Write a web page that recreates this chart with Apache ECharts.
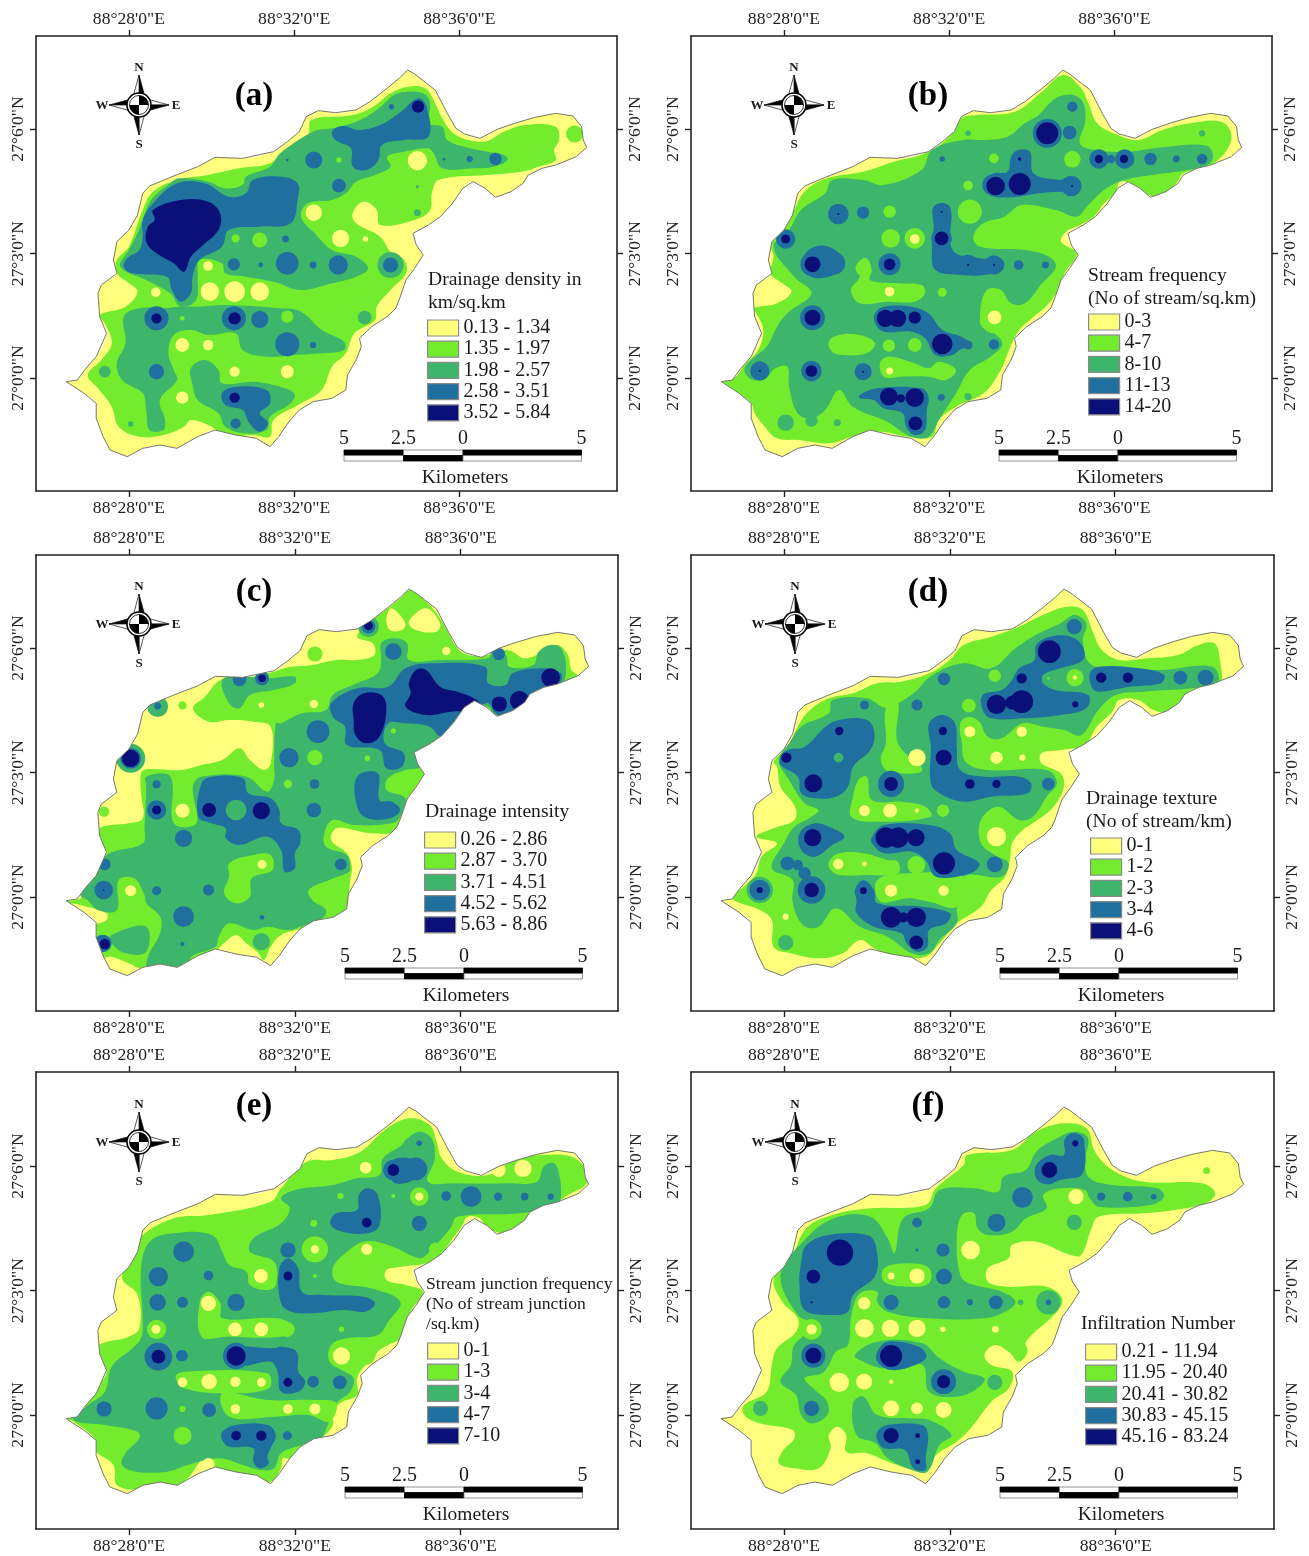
<!DOCTYPE html>
<html><head><meta charset="utf-8">
<style>html,body{margin:0;padding:0;background:#fff}#c{width:1309px;height:1556px}</style>
<script src="https://cdn.jsdelivr.net/npm/echarts@6/dist/echarts.min.js"></script>
</head><body><div id="c"></div>
<script>
// Map coordinates: grid units (about 14.5 m) east and north of the 88°28'E / 27°0'N graticule crossing.
const lonTicks=[0,480,960], lonLabels=['88°28\'0"E','88°32\'0"E','88°36\'0"E'];
const latTicks=[0,373,747], latLabels=['27°0\'0"N','27°3\'0"N','27°6\'0"N'];
const classColors=['#FFFF7D','#72EC2C','#3DB56B','#20709F','#0B0F78'];
const basin=[[810,924],[830,912],[855,892],[890,864],[905,834],[925,794],[950,749],[975,732],[1020,719],[1070,746],[1120,764],[1180,782],[1240,794],[1290,786],[1315,754],[1320,714],[1330,692],[1300,664],[1240,639],[1200,629],[1160,609],[1145,584],[1110,559],[1065,542],[1035,569],[1000,589],[970,569],[940,524],[905,484],[870,459],[825,434],[835,399],[855,369],[830,329],[805,294],[785,234],[775,209],[750,184],[705,154],[670,119],[675,94],[660,54],[635,9],[630,-36],[590,-61],[535,-71],[495,-96],[465,-131],[435,-176],[410,-206],[370,-181],[310,-171],[250,-156],[200,-176],[140,-211],[90,-201],[40,-211],[-5,-236],[-55,-216],[-75,-176],[-95,-121],[-95,-76],[-130,-46],[-182,-11],[-150,-6],[-125,29],[-95,64],[-65,134],[-85,184],[-90,254],[-80,279],[-35,314],[-45,354],[-35,409],[0,444],[25,489],[40,554],[60,576],[125,604],[200,634],[250,662],[330,659],[420,679],[460,709],[495,739],[515,784],[550,802],[600,796],[660,804],[700,829],[750,869],[785,899]];

// Each panel: layers drawn in order as [class index, shapes]; a shape is a polygon or a [x,y,radius] disc.
const aLayers=[
[1,[[[810,874],[860,869],[890,824],[910,779],[950,729],[1030,709],[1090,739],[1150,759],[1240,754],[1250,714],[1235,684],[1240,654],[1190,634],[1140,619],[1040,609],[900,594],[880,554],[875,504],[830,474],[730,459],[720,504],[680,529],[650,494],[660,464],[730,424],[760,379],[800,354],[805,314],[760,264],[720,214],[715,174],[655,134],[630,74],[590,34],[560,-36],[500,-76],[420,-126],[410,-176],[360,-171],[280,-176],[240,-146],[180,-126],[160,-146],[100,-171],[30,-176],[-30,-146],[-50,-86],[-90,-31],[-120,9],[-80,54],[-50,104],[-70,164],[-85,189],[-10,214],[25,259],[0,284],[-35,314],[-35,354],[0,394],[40,504],[70,559],[140,594],[230,609],[320,629],[410,644],[450,684],[520,729],[530,774],[650,789],[710,814],[760,854]],[1295,732,25]]],
[2,[[[40,474],[65,534],[120,584],[145,599],[230,589],[280,569],[330,579],[340,604],[410,634],[440,674],[535,739],[590,749],[660,769],[720,804],[770,849],[810,859],[855,854],[875,824],[870,764],[910,754],[925,714],[980,692],[1040,679],[1090,669],[1100,654],[1060,634],[1000,629],[910,629],[885,674],[870,689],[800,679],[750,664],[760,634],[715,609],[660,589],[630,554],[590,534],[520,524],[500,484],[540,434],[590,384],[660,364],[695,329],[660,304],[590,284],[500,264],[420,289],[340,304],[280,314],[270,344],[205,354],[200,304],[195,234],[150,214],[120,254],[50,294],[-25,334],[0,384],[25,434]],
[[-15,184],[30,209],[100,209],[150,214],[200,214],[280,219],[440,209],[500,199],[560,144],[625,109],[625,84],[560,74],[480,69],[400,64],[330,84],[310,134],[230,129],[180,144],[130,129],[115,74],[130,24],[140,-6],[90,-66],[105,-126],[100,-156],[60,-156],[50,-96],[40,-46],[-20,-6],[-35,44],[-10,104]],
[[180,29],[220,54],[260,24],[270,-16],[360,-11],[420,-21],[480,-46],[470,-76],[410,-116],[400,-156],[340,-166],[280,-146],[260,-106],[200,-66],[185,-21]],
[-70,19,17],[685,181,20],[5,-138,8],[838,496,10],[838,574,5],[760,339,38]]],
[1,[[460,184,18],[310,419,12],[380,414,22],[155,179,7],[610,654,8]]],
[0,[[838,652,28],[537,496,24],[615,419,25],[687,417,8],[230,336,14],[78,257,14],[235,259,27],[307,259,30],[380,259,27],[155,99,20],[230,99,15],[307,19,15],[460,19,19],[155,-59,18]]],
[3,[[[840,839],[865,814],[870,724],[800,714],[735,699],[725,654],[690,624],[650,634],[645,689],[600,714],[590,739],[620,756],[670,744],[730,759],[785,794]],
[[40,474],[70,524],[140,584],[220,584],[290,544],[340,554],[360,594],[440,604],[490,584],[490,534],[470,464],[380,454],[290,444],[270,394],[205,354],[185,304],[180,254],[150,229],[125,264],[110,304],[10,314],[-15,334],[-5,359],[30,384],[40,424]],
[[270,-46],[310,-26],[400,-36],[410,-76],[380,-106],[405,-136],[380,-161],[350,-136],[330,-96],[280,-81]],
[537,654,25],[610,577,20],[305,341,18],[460,344,33],[608,339,28],[760,339,22],[1065,657,18],[990,657,9],[915,656,4],[455,417,10],[383,339,7],[535,339,10],[80,19,22],[460,101,35],[535,99,9],[763,814,8],[460,654,4],[310,-136,15],[80,179,35],[305,179,35],[380,176,25]]],
[4,[[[70,504],[150,534],[230,529],[265,494],[260,444],[210,394],[180,364],[160,319],[130,344],[80,374],[50,409],[55,454],[75,474]],[840,814,18],[80,179,15],[307,179,18],[307,-59,15]]]
];

const bLayers=[
[1,[[[810,909],[860,874],[885,824],[910,764],[970,729],[1030,714],[1100,744],[1180,764],[1270,769],[1300,729],[1280,674],[1230,634],[1160,614],[1140,584],[1090,544],[1040,559],[1005,584],[975,589],[965,559],[930,524],[900,484],[860,459],[820,439],[805,409],[850,374],[815,314],[800,274],[770,224],[720,179],[680,139],[650,74],[630,24],[580,-46],[500,-86],[450,-126],[430,-176],[360,-176],[280,-161],[200,-176],[130,-196],[45,-186],[-20,-181],[-60,-141],[-85,-106],[-95,-76],[-130,-46],[-175,-11],[-140,4],[-115,39],[-75,84],[-60,144],[-80,194],[-90,209],[-20,224],[22,259],[-5,284],[-40,314],[-30,364],[-40,409],[0,444],[25,494],[60,559],[125,599],[230,619],[320,649],[410,674],[480,724],[515,779],[560,789],[670,799],[750,859]]]],
[2,[[[790,839],[840,849],[870,824],[875,769],[860,704],[900,684],[1000,679],[1100,692],[1230,696],[1245,654],[1200,629],[1070,609],[990,594],[930,564],[880,514],[850,484],[790,504],[690,519],[640,484],[580,464],[550,424],[570,394],[700,384],[770,364],[790,334],[750,284],[700,224],[660,224],[630,264],[590,264],[570,194],[590,154],[635,104],[600,64],[540,24],[500,-46],[450,-126],[420,-176],[370,-176],[300,-131],[200,-86],[160,-36],[120,-96],[80,-121],[40,-106],[15,-26],[10,34],[-25,29],[-50,4],[-90,-6],[-115,24],[-90,59],[-50,94],[-20,154],[10,194],[80,254],[30,304],[-30,394],[15,444],[50,504],[120,554],[140,594],[230,594],[290,579],[400,624],[430,684],[520,714],[580,714],[650,724],[700,764],[740,789]],
[535,734,8],[5,-134,24],[80,-128,18],[155,-134,10],[535,-56,10],[1215,734,9]]],
[1,[[307,499,18],[310,419,27],[380,419,30],[610,659,14],[838,656,24],[535,577,14],[540,499,35],[230,329,22],
[[215,344],[240,359],[255,324],[250,294],[330,284],[400,279],[410,254],[380,229],[300,229],[220,224],[195,264],[220,304]],
[460,257,13],
[[570,184],[590,254],[630,264],[630,214],[635,154],[610,134],[575,154]],
[[130,109],[160,129],[220,129],[265,104],[240,74],[170,69],[140,79]],[305,97,18],[380,99,20],
[[280,49],[310,64],[380,44],[420,29],[450,49],[500,24],[470,-6],[420,4],[340,4],[290,4]]]],
[0,[[307,259,14],[380,417,14],[612,182,20],[307,21,10]]],
[3,[[[660,664],[680,684],[715,679],[725,614],[800,594],[820,599],[860,584],[850,554],[800,559],[740,554],[680,544],[610,544],[580,564],[580,594],[610,614],[650,619]],
[838,814,15],[765,734,42],[830,736,20],[835,576,30],
[915,657,28],[990,657,28],[950,657,12],[1065,657,18],[1140,657,10],[1215,657,15],[460,657,8],
[158,492,30],[230,496,18],[5,417,28],[83,341,35],[145,344,33],
[[55,354],[80,389],[130,394],[175,354],[160,319],[100,299],[65,314]],
[307,341,32],[83,181,36],
[458,499,26],[458,419,30],
[[435,514],[482,514],[490,384],[570,359],[635,354],[635,324],[580,309],[520,309],[440,324],[430,394],[435,454]],
[535,339,30],[610,339,28],[682,339,14],[760,339,10],
[[265,194],[290,214],[370,214],[420,194],[460,144],[515,124],[545,99],[510,84],[490,69],[440,69],[410,119],[370,139],[290,139],[265,164]],
[535,99,13],[610,101,15],
[-70,21,28],[80,21,30],[230,19,25],
[[220,-51],[270,-31],[400,-31],[420,-56],[415,-96],[410,-156],[380,-171],[355,-146],[345,-106],[290,-91],[260,-66],[220,-61]],
[457,-58,10]]],
[2,[[535,-56,8]]],
[4,[[765,734,32],[615,576,27],[685,582,32],[837,576,3],[685,657,5],[915,657,12],[988,657,12],[158,492,3],[5,417,13],[83,341,23],[307,341,17],[83,181,23],[458,499,3],[458,419,20],[535,339,3],[610,339,3],[295,179,25],[330,179,25],[380,181,18],[460,102,30],[-70,21,3],[80,21,17],[230,19,3],[305,-56,26],[340,-61,12],[380,-59,27],[382,-136,20]]]
];

const cLayers=[
[1,[[[815,921],[860,886],[890,851],[920,801],[950,746],[980,726],[1040,726],[1090,741],[1110,736],[1145,716],[1200,736],[1240,756],[1270,726],[1280,681],[1300,661],[1240,631],[1160,606],[1110,556],[1065,541],[1040,566],[1000,581],[970,566],[940,521],[905,481],[870,456],[830,431],[840,396],[855,366],[830,326],[805,291],[785,231],[775,196],[700,191],[650,201],[600,206],[585,171],[630,131],[645,91],[640,51],[635,-9],[630,-34],[590,-64],[535,-74],[500,-94],[440,-114],[410,-149],[390,-189],[375,-169],[340,-139],[310,-114],[280,-134],[240,-169],[200,-179],[190,-209],[140,-214],[50,-214],[30,-214],[0,-199],[-50,-179],[-75,-179],[-95,-124],[-105,-89],[-65,-69],[-65,-49],[-140,-24],[-180,-14],[-140,-4],[-125,26],[-95,61],[-65,131],[-90,181],[-85,206],[-50,216],[0,221],[40,236],[35,311],[35,371],[50,383],[150,381],[210,396],[270,411],[320,446],[350,411],[390,381],[410,401],[410,511],[360,526],[290,531],[230,526],[185,566],[220,601],[265,651],[330,656],[420,676],[460,689],[530,696],[600,711],[660,711],[710,726],[705,761],[660,781],[700,826],[750,866],[785,896]],
[538,729,22],[155,575,12],[-72,256,15]]],
[0,[[[760,866],[800,821],[790,801],[755,801],[745,836]],[[860,866],[900,821],[890,796],[830,801],[810,826]],[918,738,12],[383,576,8],[535,579,12],[155,259,20]]],
[2,[[[440,521],[500,551],[570,561],[590,606],[660,641],[720,671],[730,711],[730,761],[765,776],[805,761],[810,711],[900,711],[1040,716],[1050,736],[1090,726],[1100,691],[1170,696],[1185,736],[1220,756],[1250,746],[1265,686],[1250,636],[1170,611],[1140,581],[1100,551],[1060,546],[1040,571],[1000,576],[950,551],[905,481],[840,431],[845,391],[800,381],[750,356],[745,321],[800,296],[785,241],[760,221],[650,216],[590,231],[565,191],[570,151],[630,126],[640,81],[630,71],[580,51],[520,21],[530,-9],[570,-39],[560,-64],[535,-74],[495,-89],[460,-99],[400,-89],[360,-99],[290,-79],[260,-119],[250,-149],[180,-179],[170,-214],[130,-214],[55,-214],[55,-179],[90,-109],[90,-59],[50,-19],[45,6],[15,56],[-30,51],[-35,-39],[-90,-39],[-120,-9],[-140,6],[-95,66],[-65,126],[40,161],[45,211],[50,331],[50,361],[120,361],[130,221],[195,221],[185,331],[210,361],[340,361],[400,316],[420,351],[420,391],[425,521]],
[[-50,-114],[50,-89],[50,-164],[-10,-169],[-50,-139]],
[[270,651],[330,661],[400,656],[480,661],[480,641],[420,621],[350,606],[320,566],[290,581]],
[5,416,42],[693,811,30],[383,-134,25],[83,571,30],[-80,-139,25]]],
[1,[[538,418,22],[460,339,12],[[290,101],[360,126],[410,126],[415,81],[355,56],[350,1],[310,-19],[275,11],[290,61]],[690,416,8],[765,498,7]]],
[0,[[385,98,13],[155,259,20],[5,19,16]]],
[3,[[[585,581],[660,626],[750,631],[800,686],[880,701],[1030,691],[1040,641],[1090,636],[1110,671],[1200,686],[1250,671],[1245,641],[1170,616],[1140,581],[1090,546],[1060,551],[1040,581],[1010,571],[960,551],[905,481],[870,511],[800,521],[750,521],[740,461],[795,431],[790,391],[745,386],[725,441],[630,456],[625,511],[590,541]],
[[660,361],[720,371],[725,291],[760,286],[785,261],[755,236],[690,236],[660,271]],
[[210,341],[240,361],[330,356],[345,311],[410,296],[435,261],[440,221],[490,201],[495,161],[480,131],[480,86],[450,76],[440,141],[400,181],[320,156],[280,176],[280,206],[240,221],[200,241]],
[547,496,33],[765,736,24],[463,418,28],[537,339,14],[535,261,21],[80,261,28],[80,338,12],[158,176,25],[-70,98,17],[-73,21,27],[80,19,13],[230,21,16],[158,-59,30],[613,98,17],[385,-61,7],[155,-141,6],[320,653,20],[385,656,20],[83,573,10],[1070,729,18],[-75,-139,25],[693,811,20],[5,416,30]]],
[2,[[310,261,30]]],
[1,[[765,498,7]]],
[4,[[[650,581],[680,611],[730,606],[745,566],[725,481],[685,461],[655,486],[650,531]],[[810,641],[830,681],[860,681],[900,631],[950,616],[990,601],[1015,581],[990,561],[930,556],[860,546],[800,571],[815,611]],[1220,658,27],[1072,579,22],[1130,589,28],[232,261,20],[383,259,25],[80,261,13],[5,416,25],[693,814,13],[385,656,11],[-70,-141,15],[-73,21,2]]]
];

const dLayers=[
[1,[[[760,851],[820,871],[865,861],[895,791],[920,741],[970,711],[1050,716],[1140,726],[1200,756],[1245,761],[1260,721],[1260,631],[1180,621],[1150,591],[1110,556],[1070,561],[1025,591],[970,591],[950,556],[905,511],[870,456],[800,441],[745,431],[745,401],[800,371],[810,331],[780,271],[720,221],[690,201],[660,161],[655,121],[640,61],[600,21],[570,-29],[500,-79],[450,-139],[410,-179],[340,-179],[270,-159],[220,-129],[170,-169],[100,-184],[20,-169],[-30,-149],[-35,-69],[-70,-39],[-150,-4],[-110,36],[-80,71],[-65,121],[-20,161],[-80,181],[-30,206],[30,231],[32,271],[-10,331],[-20,391],[-30,406],[10,451],[40,511],[70,556],[130,596],[200,611],[270,641],[340,646],[420,671],[480,711],[520,756],[600,781],[680,811]]]],
[0,[[615,181,28]]],
[2,[[[430,666],[520,701],[600,686],[670,746],[720,781],[800,821],[840,846],[875,821],[865,766],[885,701],[940,686],[1090,681],[1240,691],[1255,641],[1180,626],[1040,616],[960,606],[910,561],[860,486],[810,501],[750,511],[690,521],[630,476],[590,481],[565,526],[535,541],[510,521],[515,461],[525,406],[590,381],[760,381],[790,341],[760,301],[720,241],[680,231],[620,271],[570,231],[570,161],[610,126],[650,101],[630,61],[520,61],[500,-29],[500,-79],[450,-129],[420,-169],[370,-169],[300,-119],[220,-89],[150,-34],[100,-89],[55,-84],[25,-14],[25,51],[-35,86],[0,161],[30,211],[80,241],[100,261],[60,281],[15,351],[-15,411],[15,461],[50,511],[130,551],[140,591],[240,596],[295,566],[330,581],[380,616]],
[5,-137,22],[-70,21,38]]],
[1,[[[295,566],[330,586],[330,461],[400,381],[305,376],[280,411],[295,461]],
[[215,351],[240,361],[255,291],[340,286],[410,271],[425,241],[270,226],[195,241],[200,301]],
[460,259,18],
[[130,106],[160,131],[230,131],[300,111],[330,106],[330,71],[230,66],[160,66],[135,81]],[383,96,26],
[[270,51],[360,71],[520,61],[500,-29],[420,-14],[360,-4],[280,-14]],
[610,664,18],[535,574,20],[842,658,25],[765,656,4]]],
[0,[[842,658,6],[538,496,16],[688,496,15],[385,418,25],[615,418,18],[690,418,9],[233,259,16],[307,259,20],[385,259,6],[157,99,15],[233,99,7],[310,19,18],[462,19,15],[5,-59,9]]],
[3,[[840,811,22],
[[730,756],[770,781],[830,781],[865,751],[865,711],[800,686],[750,666],[750,641],[785,621],[880,606],[875,566],[800,546],[700,536],[600,536],[575,561],[575,606],[630,621],[660,651],[680,686],[725,711]],
[[885,671],[910,691],[1030,686],[1100,666],[1090,641],[1000,631],[910,616],[890,631]],[1147,658,20],[1220,658,23],
[[-10,421],[10,441],[60,451],[120,511],[160,531],[240,531],[262,491],[250,441],[200,391],[185,331],[150,301],[90,296],[50,311],[40,361],[-10,396]],
[233,576,13],[385,576,16],[463,654,18],[310,339,38],
[[420,521],[460,546],[495,521],[500,451],[510,381],[580,361],[680,361],[715,341],[705,311],[600,301],[520,286],[450,311],[425,341],[425,451]],
[765,339,18],
[[255,181],[290,216],[420,216],[480,191],[500,141],[565,101],[540,71],[440,61],[410,111],[370,136],[290,131],[255,161]],[610,98,23],
[85,176,40],[[45,191],[90,221],[140,206],[175,181],[140,156],[90,121],[50,141]],
[10,101,20],[40,96,15],[80,21,40],[60,71,18],
[[205,21],[230,51],[260,21],[270,-19],[400,-29],[480,-49],[470,-79],[420,-99],[415,-149],[385,-164],[355,-139],[340,-109],[260,-89],[210,-49],[210,-9]],
[-70,21,30]]],
[2,[[158,418,14]]],
[4,[[768,736,33],[688,656,15],[918,658,15],[995,658,15],[843,578,9],[615,578,28],[660,583,20],[688,586,33],[160,498,12],[7,418,15],[85,341,26],[310,339,20],[460,498,12],[462,418,23],[538,339,14],[615,339,12],[295,178,30],[330,178,30],[382,178,25],[463,101,32],[83,178,25],[80,21,21],[-70,21,9],[230,19,10],[310,-61,30],[345,-61,15],[383,-61,28],[383,-136,20]]]
];

const eLayers=[
[1,[[[740,855],[810,890],[870,870],[890,820],[905,770],[950,730],[1040,720],[1120,770],[1200,780],[1280,775],[1320,740],[1325,695],[1270,660],[1240,640],[1170,610],[1140,575],[1090,545],[1035,565],[1015,590],[980,595],[965,570],[930,520],[900,480],[860,455],[790,445],[745,435],[745,405],[800,390],[850,370],[820,320],[800,280],[785,230],[750,210],[720,190],[705,160],[680,145],[660,110],[660,60],[610,35],[590,0],[590,-30],[555,-70],[500,-95],[465,-130],[445,-130],[440,-160],[410,-200],[340,-190],[250,-170],[220,-130],[170,-190],[130,-215],[40,-225],[-35,-210],[-45,-150],[-100,-105],[-100,-70],[-160,-20],[-182,-10],[-150,-5],[-125,30],[-95,80],[-65,130],[-85,180],[-88,210],[0,235],[30,260],[25,360],[-20,410],[10,470],[30,530],[130,590],[230,600],[410,640],[440,680],[515,760],[590,765],[670,790]]]],
[0,[[1070,735,20],[1140,740,25]]],
[2,[[[800,825],[840,850],[875,830],[885,770],[865,700],[940,695],[1090,695],[1180,700],[1200,745],[1230,755],[1245,720],[1250,660],[1240,630],[1130,605],[950,595],[930,560],[860,480],[840,470],[750,510],[680,520],[620,480],[590,440],[600,400],[700,380],[785,340],[750,280],[720,240],[630,230],[585,210],[580,160],[615,135],[650,110],[640,70],[600,35],[575,-30],[555,-70],[500,-90],[440,-115],[420,-160],[380,-165],[330,-150],[260,-130],[170,-150],[110,-170],[20,-170],[-20,-150],[-10,-115],[30,-70],[25,-50],[-70,-30],[-160,-15],[-125,25],[-70,70],[-50,145],[10,200],[35,230],[40,280],[35,440],[60,520],[130,545],[240,540],[270,490],[290,450],[340,430],[350,390],[400,375],[425,390],[420,460],[350,490],[360,530],[440,575],[465,620],[440,650],[480,675],[590,690],[660,710],[725,720],[735,770],[790,810]]]],
[1,[[80,257,28],[[205,340],[230,370],[265,335],[270,290],[430,290],[480,260],[440,235],[280,235],[210,235]],
[[135,115],[160,130],[400,125],[405,80],[280,65],[160,80]],
[[270,65],[400,45],[540,45],[600,35],[580,-20],[520,0],[420,-5],[290,-5]],
[155,-62,26],[538,497,38],[840,655,27],[615,177,35],[685,745,22],[612,657,9],[765,657,6],[535,575,10],[538,417,6],[615,257,8],[155,18,9],[457,257,22],[888,497,20]]],
[0,[[78,257,13],[230,335,22],[307,257,20],[383,257,20],[382,417,20],[688,497,16],[308,18,14],[460,18,14],[538,18,16],[230,-148,18],[538,497,12],[840,655,12],[615,177,25],[685,742,17],[155,98,14],[232,100,22],[308,100,15],[383,98,13]]],
[3,[[840,815,8],[765,735,30],[830,738,33],[[765,765],[830,762],[830,710],[765,698]],
[918,657,14],[990,655,30],[1068,655,12],[1145,655,11],[1220,655,9],[840,575,22],
[[665,660],[690,680],[720,660],[725,570],[690,545],[610,552],[582,575],[600,605],[660,615]],
[158,490,30],[85,415,28],[83,338,24],[155,338,16],[230,418,14],[310,338,25],
[460,495,22],
[[435,440],[460,470],[490,440],[500,370],[560,360],[680,355],[712,335],[685,310],[620,315],[530,305],[470,310],[440,335]],
[85,175,40],[153,178,17],[310,177,38],
[[310,200],[420,200],[440,205],[485,190],[490,130],[510,100],[490,70],[440,70],[430,130],[410,160],[320,150]],
[533,100,17],[610,98,20],[-72,18,22],[80,20,32],[232,15,20],
[[270,-50],[310,-30],[400,-30],[425,-60],[410,-100],[400,-125],[405,-145],[380,-160],[360,-140],[360,-100],[290,-95],[270,-75]],
[458,-62,13]]],
[4,[[765,735,17],[688,577,14],[460,417,13],[85,175,20],[310,177,28],[460,98,13],[310,-62,14],[383,-62,15]]]
];

const fLayers=[
[1,[[[730,850],[810,875],[875,860],[900,790],[950,735],[1040,700],[1210,695],[1248,665],[1220,635],[1130,615],[1040,605],[910,595],[890,560],[860,480],[830,480],[730,520],[660,510],[650,470],[590,440],[590,400],[650,385],[760,385],[805,350],[790,310],[700,220],[705,190],[680,160],[650,190],[610,210],[580,180],[600,150],[660,130],[650,80],[600,40],[540,-40],[500,-80],[440,-120],[410,-170],[360,-160],[300,-140],[240,-115],[180,-110],[180,-60],[155,-35],[130,-60],[135,-100],[100,-160],[30,-160],[-15,-145],[-5,-110],[30,-70],[25,-45],[-70,-25],[-115,0],[-115,30],[-50,70],[-35,150],[-20,200],[35,250],[40,290],[-5,340],[-30,410],[20,470],[65,560],[140,600],[250,620],[410,630],[440,680],[520,750],[530,780],[660,795]],[1223,733,10]]],
[2,[[[790,830],[840,850],[880,830],[870,760],[885,710],[950,690],[1080,680],[1100,655],[1060,630],[910,625],[885,650],[870,675],[800,680],[750,660],[760,620],[700,590],[660,550],[590,540],[560,560],[550,605],[515,600],[500,530],[510,420],[535,395],[630,370],[670,340],[640,310],[580,290],[420,290],[300,310],[270,340],[270,370],[220,365],[195,300],[185,210],[150,190],[130,150],[110,125],[60,110],[90,75],[125,40],[125,0],[80,-25],[50,0],[35,60],[-10,100],[20,150],[30,210],[90,270],[40,300],[-10,420],[55,520],[145,590],[250,595],[300,530],[320,485],[345,590],[420,620],[450,675],[550,680],[620,670],[635,715],[700,735],[730,790]],
[[205,180],[270,220],[400,215],[450,170],[520,130],[580,110],[560,80],[500,55],[420,70],[400,150],[290,140],[230,160]],
[[200,35],[230,55],[270,0],[360,-10],[420,-15],[485,-60],[450,-90],[415,-170],[370,-165],[300,-130],[265,-85],[210,-60]],
[765,338,35],[-68,20,22],[840,578,22],[610,98,22],[685,338,8]]],
[1,[[[290,440],[360,455],[420,440],[420,395],[360,385],[290,400]],[80,257,30],[615,735,6]]],
[0,[[232,335,18],[80,257,15],[233,260,27],[308,260,25],[385,260,25],[460,257,8],[612,257,10],[310,417,10],[385,417,22],[845,655,22],[540,495,27],[160,98,28],[232,100,23],[310,100,6],[310,20,23],[385,20,17],[462,15,23]]],
[3,[[840,815,30],[[730,750],[770,780],[810,780],[815,830],[860,835],[865,725],[800,705],[760,692],[730,710]],
[690,653,30],[615,577,26],[918,655,12],[995,655,14],[1070,655,8],[385,577,14],[460,495,19],[463,415,23],[310,338,22],[463,338,18],[538,338,9],[613,338,20],[765,338,8],[385,495,4],
[[50,460],[65,510],[130,540],[240,540],[265,510],[265,420],[200,360],[185,310],[140,300],[60,315],[45,390]],
[85,178,35],[[270,190],[300,220],[390,205],[412,175],[380,150],[310,135],[270,160]],
[462,100,36],[80,20,22],
[[270,-50],[300,-30],[400,-30],[417,-60],[410,-130],[410,-165],[375,-160],[350,-105],[290,-100],[270,-75]]]],
[4,[[768,735,23],[843,815,9],[162,487,38],[85,415,20],[80,338,3],[85,178,23],[310,177,32],[462,100,19],[310,-62,22],[387,-62,7],[387,-140,7]]]
];

const panels=[
 {key:'(a)',layers:aLayers,left:36,width:581,top:36,height:455,xMin:-270,xMax:1418,yMin:-339,yMax:1026,label:[254,96],compass:[139,105],bar:[344,450],
  title:['Drainage density in','km/sq.km'],titleAt:[428,280],titleGap:23,titleSize:19.6,legendAt:[427,318],names:['0.13 - 1.34','1.35 - 1.97','1.98 - 2.57','2.58 - 3.51','3.52 - 5.84']},
 {key:'(b)',layers:bLayers,left:691,width:581,top:36,height:455,xMin:-270,xMax:1418,yMin:-339,yMax:1026,label:[928,96],compass:[794,105],bar:[999,450],
  title:['Stream frequency','(No of stream/sq.km)'],titleAt:[1088,276],titleGap:23,titleSize:19.6,legendAt:[1088,312],names:['0-3','4-7','8-10','11-13','14-20']},
 {key:'(c)',layers:cLayers,left:36,width:582,top:555,height:456,xMin:-269,xMax:1415,yMin:-342,yMax:1026,label:[254,592],compass:[139,624],bar:[345,968],
  title:['Drainage intensity'],titleAt:[425,812],titleGap:23,titleSize:19.6,legendAt:[424,830],names:['0.26 - 2.86','2.87 - 3.70','3.71 - 4.51','4.52 - 5.62','5.63 - 8.86']},
 {key:'(d)',layers:dLayers,left:691,width:583,top:555,height:456,xMin:-269,xMax:1418,yMin:-342,yMax:1026,label:[928,592],compass:[795,624],bar:[1000,968],
  title:['Drainage texture','(No of stream/km)'],titleAt:[1086,799],titleGap:23,titleSize:19.6,legendAt:[1090,836],names:['0-1','1-2','2-3','3-4','4-6']},
 {key:'(e)',layers:eLayers,left:36,width:582,top:1072,height:457,xMin:-269,xMax:1415,yMin:-342,yMax:1029,label:[254,1106],compass:[139,1142],bar:[345,1487],
  title:['Stream junction frequency','(No of stream junction','/sq.km)'],titleAt:[426,1284],titleGap:20,titleSize:17.6,legendAt:[427,1341],names:['0-1','1-3','3-4','4-7','7-10']},
 {key:'(f)',layers:fLayers,left:691,width:583,top:1072,height:457,xMin:-269,xMax:1418,yMin:-342,yMax:1029,label:[928,1106],compass:[795,1142],bar:[1000,1487],
  title:['Infiltration Number'],titleAt:[1081,1324],titleGap:23,titleSize:19.6,legendAt:[1085,1342],names:['0.21 - 11.94','11.95 - 20.40','20.41 - 30.82','30.83 - 45.15','45.16 - 83.24']}
];

const serif='"Liberation Serif","Times New Roman",serif';
const grids=[],xAxes=[],yAxes=[],series=[],legends=[],graphics=[];
const isDisc=s=>typeof s[0]==='number';

function layerSeries(name,color,shapes,idx){
  return {type:'custom',name,xAxisIndex:idx*2,yAxisIndex:idx*2,clip:false,silent:true,animation:false,
    itemStyle:{color},
    data:shapes.map(s=>isDisc(s)?[s[0],s[1]]:s[0]),
    renderItem(params,api){
      const s=shapes[params.dataIndex],style={fill:color,stroke:null};
      if(isDisc(s)){const c=api.coord([s[0],s[1]]);return {type:'circle',shape:{cx:c[0],cy:c[1],r:api.size([s[2],0])[0]},style};}
      return {type:'polygon',shape:{points:s.map(p=>api.coord(p)),smooth:0.38},style};
    }};
}
// White keyhole over the area outside the basin, so the class shapes end at its edge.
function maskSeries(p,idx){
  const m=3,corners=[[p.xMin+m,p.yMax-m],[p.xMax-m,p.yMax-m],[p.xMax-m,p.yMin+m],[p.xMin+m,p.yMin+m],[p.xMin+m,p.yMax-m]];
  const ring=[basin[0]].concat(basin.slice().reverse());
  return {type:'custom',name:'Basin mask',xAxisIndex:idx*2,yAxisIndex:idx*2,clip:false,silent:true,animation:false,
    data:[basin[0]],
    renderItem(q,api){return {type:'polygon',shape:{points:corners.concat(ring).map(r=>api.coord(r))},style:{fill:'#fff',stroke:null}};}};
}
function outlineSeries(idx){
  return {type:'custom',name:'Basin outline',xAxisIndex:idx*2,yAxisIndex:idx*2,clip:false,silent:true,animation:false,
    data:[basin[0]],
    renderItem(p,api){return {type:'polygon',shape:{points:basin.map(q=>api.coord(q))},style:{fill:'none',stroke:'#77776a',lineWidth:1}};}};
}
function xAxis(p,i,pos){
  return {type:'value',gridIndex:i,position:pos,min:p.xMin,max:p.xMax,splitLine:{show:false},silent:true,
    axisLine:{show:true,onZero:false,lineStyle:{color:'#222',width:1.6}},
    axisTick:{show:true,length:6,inside:false,customValues:lonTicks,lineStyle:{color:'#222',width:1.4}},
    axisLabel:{show:true,customValues:lonTicks,margin:8,fontFamily:serif,fontSize:17.6,color:'#222',hideOverlap:false,
      formatter:v=>lonLabels[lonTicks.indexOf(v)]}};
}
function yAxis(p,i,pos){
  return {type:'value',gridIndex:i,position:pos,min:p.yMin,max:p.yMax,splitLine:{show:false},silent:true,
    axisLine:{show:true,onZero:false,lineStyle:{color:'#222',width:1.6}},
    axisTick:{show:true,length:6,inside:false,customValues:latTicks,lineStyle:{color:'#222',width:1.4}},
    axisLabel:{show:true,rotate:90,customValues:latTicks,margin:9,fontFamily:serif,fontSize:17.6,color:'#222',hideOverlap:false,
      formatter:v=>latLabels[latTicks.indexOf(v)]}};
}
function txt(x,y,text,size,o){
  return Object.assign({type:'text',x,y,silent:true,style:Object.assign({text,fontFamily:serif,fontSize:size,fill:'#1a1a1a',textAlign:'left',textVerticalAlign:'middle'},o||{})});
}
function compass(cx,cy){
  const t=(x,y,text)=>txt(cx+x,cy+y,text,13,{fontWeight:'bold',textAlign:'center'});
  const tri=(pts,fill)=>({type:'polygon',silent:true,shape:{points:pts.map(q=>[cx+q[0],cy+q[1]])},style:{fill,stroke:'#111',lineWidth:0.7}});
  const L=30,w=6;
  const sect=(a0,a1,fill)=>({type:'sector',silent:true,shape:{cx,cy,r:9.5,r0:0,startAngle:a0,endAngle:a1},style:{fill}});
  return [
    tri([[0,-L],[w,-8],[0,0]],'#000'),tri([[0,-L],[-w,-8],[0,0]],'#fff'),
    tri([[L,0],[8,-w],[0,0]],'#fff'),tri([[L,0],[8,w],[0,0]],'#000'),
    tri([[0,L],[w,8],[0,0]],'#fff'),tri([[0,L],[-w,8],[0,0]],'#000'),
    tri([[-L,0],[-8,-w],[0,0]],'#000'),tri([[-L,0],[-8,w],[0,0]],'#fff'),
    {type:'circle',silent:true,shape:{cx,cy,r:12},style:{fill:'#fff',stroke:'#000',lineWidth:1.6}},
    {type:'circle',silent:true,shape:{cx,cy,r:9.5},style:{fill:'#fff',stroke:'#000',lineWidth:0.8}},
    sect(-Math.PI/2,0,'#000'),sect(Math.PI/2,Math.PI,'#000'),
    t(0,-37,'N'),t(0,40,'S'),t(-37,1,'W'),t(37,1,'E')
  ];
}
function scaleBar(x,y){
  const rect=(rx,ry,w,h,fill)=>({type:'rect',silent:true,shape:{x:rx,y:ry,width:w,height:h},style:{fill,stroke:fill==='#000'?'#000':'#777',lineWidth:0.8}});
  const segs=[[0,59.5],[59.5,59.5],[119,118.5]];
  const out=[];
  segs.forEach((s,i)=>{
    out.push(rect(x+s[0],y,s[1],5.5,i===1?'#fff':'#000'));
    out.push(rect(x+s[0],y+5.5,s[1],5.5,i===1?'#000':'#fff'));
  });
  [[0,'5'],[59.5,'2.5'],[119,'0'],[237.5,'5']].forEach(a=>out.push(txt(x+a[0],y-11,a[1],20,{textAlign:'center'})));
  out.push(txt(x+121,y+28,'Kilometers',19.5,{textAlign:'center'}));
  return out;
}

panels.forEach((p,i)=>{
  grids.push({left:p.left,top:p.top,width:p.width,height:p.height,show:false,containLabel:false});
  xAxes.push(xAxis(p,i,'bottom'),xAxis(p,i,'top'));
  yAxes.push(yAxis(p,i,'left'),yAxis(p,i,'right'));
  series.push(layerSeries(p.names[0],classColors[0],[basin],i));
  p.layers.forEach(l=>series.push(layerSeries(p.names[l[0]],classColors[l[0]],l[1],i)));
  series.push(maskSeries(p,i));
  series.push(outlineSeries(i));
  legends.push({show:true,orient:'vertical',left:p.legendAt[0],top:p.legendAt[1],padding:0,itemWidth:31,itemHeight:16,itemGap:1.2,selectedMode:false,
    icon:'rect',textStyle:{fontFamily:serif,fontSize:20,color:'#1a1a1a'},
    data:p.names.map((n,k)=>({name:n,icon:'rect',itemStyle:{color:classColors[k],borderColor:'#8a8a8a',borderWidth:1.2}}))});
  graphics.push(txt(p.label[0],p.label[1],p.key,33,{fontWeight:'bold',textAlign:'center',fill:'#000'}));
  p.title.forEach((t,k)=>graphics.push(txt(p.titleAt[0],p.titleAt[1]+k*p.titleGap,t,p.titleSize)));
  graphics.push(...compass(p.compass[0],p.compass[1]));
  graphics.push(...scaleBar(p.bar[0],p.bar[1]));
});
graphics.forEach(g=>{g.z=100;});

const chart=echarts.init(document.getElementById('c'),null,{renderer:'canvas',width:1309,height:1556});
chart.setOption({backgroundColor:'#fff',animation:false,tooltip:{show:false},grid:grids,xAxis:xAxes,yAxis:yAxes,series,legend:legends,graphic:{elements:graphics}});
</script></body></html>
